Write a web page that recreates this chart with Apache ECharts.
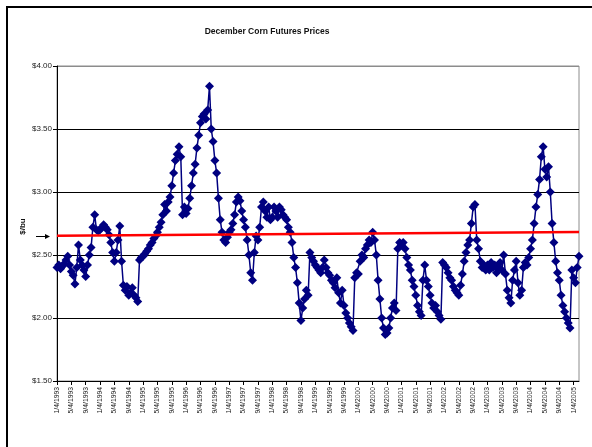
<!DOCTYPE html>
<html>
<head>
<meta charset="utf-8">
<script src="https://cdn.jsdelivr.net/npm/echarts@6/dist/echarts.min.js"></script>
<style>
  html, body { margin: 0; padding: 0; background: #fff; }
  #chart { width: 592px; height: 447px; }
</style>
</head>
<body>
<div id="chart"></div>
<script>
// December corn futures, two readings per month (4th and 19th), $/bu
const price1993 = [2.40, 2.42, 2.39, 2.41, 2.43, 2.46, 2.49, 2.42, 2.37, 2.34, 2.27, 2.40, 2.58, 2.46, 2.42, 2.38, 2.33, 2.42, 2.50, 2.56, 2.72, 2.82, 2.70, 2.69];
const price1994 = [2.70, 2.72, 2.74, 2.72, 2.70, 2.66, 2.60, 2.52, 2.45, 2.52, 2.62, 2.73, 2.45, 2.26, 2.22, 2.25, 2.18, 2.20, 2.24, 2.18, 2.16, 2.13, 2.46, 2.48];
const price1995 = [2.49, 2.51, 2.53, 2.55, 2.58, 2.60, 2.63, 2.65, 2.68, 2.72, 2.76, 2.82, 2.90, 2.85, 2.92, 2.96, 3.05, 3.15, 3.25, 3.30, 3.36, 3.28, 2.82, 2.88];
const price1996 = [2.83, 2.87, 2.95, 3.05, 3.15, 3.22, 3.35, 3.45, 3.55, 3.60, 3.62, 3.58, 3.65, 3.84, 3.50, 3.40, 3.25, 3.15, 2.95, 2.78, 2.68, 2.62, 2.60, 2.64];
const price1997 = [2.68, 2.70, 2.75, 2.82, 2.92, 2.96, 2.93, 2.85, 2.78, 2.72, 2.62, 2.50, 2.36, 2.30, 2.52, 2.65, 2.62, 2.72, 2.88, 2.92, 2.85, 2.80, 2.88, 2.78];
const price1998 = [2.80, 2.88, 2.85, 2.80, 2.88, 2.86, 2.82, 2.80, 2.78, 2.72, 2.68, 2.60, 2.48, 2.40, 2.28, 2.12, 1.98, 2.08, 2.15, 2.22, 2.18, 2.52, 2.48, 2.45];
const price1999 = [2.42, 2.40, 2.38, 2.36, 2.40, 2.46, 2.40, 2.36, 2.34, 2.30, 2.28, 2.24, 2.32, 2.20, 2.12, 2.22, 2.10, 2.04, 2.00, 1.96, 1.93, 1.90, 2.32, 2.36];
const price2000 = [2.35, 2.45, 2.50, 2.48, 2.55, 2.58, 2.62, 2.60, 2.68, 2.62, 2.50, 2.30, 2.15, 2.00, 1.92, 1.87, 1.88, 1.92, 2.00, 2.08, 2.12, 2.06, 2.55, 2.60];
const price2001 = [2.58, 2.60, 2.55, 2.48, 2.42, 2.38, 2.30, 2.25, 2.18, 2.10, 2.05, 2.02, 2.30, 2.42, 2.30, 2.25, 2.18, 2.12, 2.08, 2.10, 2.05, 2.02, 1.99, 2.44];
const price2002 = [2.42, 2.40, 2.36, 2.32, 2.30, 2.25, 2.22, 2.20, 2.18, 2.26, 2.35, 2.45, 2.52, 2.58, 2.62, 2.75, 2.88, 2.90, 2.62, 2.55, 2.45, 2.40, 2.42, 2.38];
const price2003 = [2.42, 2.38, 2.44, 2.40, 2.42, 2.36, 2.40, 2.44, 2.38, 2.50, 2.35, 2.22, 2.16, 2.12, 2.30, 2.38, 2.45, 2.28, 2.18, 2.22, 2.40, 2.44, 2.42, 2.48];
const price2004 = [2.55, 2.62, 2.75, 2.88, 2.98, 3.10, 3.28, 3.36, 3.18, 3.12, 3.20, 3.00, 2.75, 2.60, 2.45, 2.36, 2.30, 2.18, 2.10, 2.05, 2.00, 1.96, 1.92, 2.38];
const price2005 = [2.32, 2.28, 2.40, 2.49];

// red trend line, start and end value
const trendStart = 2.653;
const trendEnd = 2.683;

const yTicks = [1.5, 2.0, 2.5, 3.0, 3.5, 4.0];

const prices = [].concat(price1993, price1994, price1995, price1996, price1997, price1998,
  price1999, price2000, price2001, price2002, price2003, price2004, price2005);

// category labels M/4/YYYY and M/19/YYYY
const categories = [];
for (let y = 1993; y <= 2005; y++) {
  for (let m = 1; m <= 12; m++) {
    categories.push(m + '/4/' + y);
    categories.push(m + '/19/' + y);
  }
}
categories.length = prices.length;

const chart = echarts.init(document.getElementById('chart'), null, { renderer: 'canvas' });

const option = {
  animation: false,
  backgroundColor: '#fff',
  textStyle: { fontFamily: 'Liberation Sans, Arial, sans-serif' },
  title: {
    text: 'December Corn Futures Prices',
    left: 262,
    textAlign: 'center',
    top: 22,
    textStyle: { fontSize: 8.5, fontWeight: 'bold', color: '#111' }
  },
  grid: {
    left: 57, right: 13, top: 66, bottom: 66,
    show: true, borderColor: '#8c8c8c', borderWidth: 1
  },
  xAxis: {
    type: 'category',
    data: categories,
    boundaryGap: false,
    axisLine: { lineStyle: { color: '#000', width: 1 } },
    axisTick: { interval: 7, length: 4, lineStyle: { color: '#000' } },
    axisLabel: { interval: 7, rotate: 90, fontSize: 6.8, color: '#222', margin: 6 },
    splitLine: { show: false }
  },
  yAxis: {
    type: 'value',
    min: yTicks[0],
    max: yTicks[yTicks.length - 1],
    interval: 0.5,
    name: '$/bu',
    nameLocation: 'middle',
    nameGap: 30,
    nameRotate: 90,
    nameMoveOverlap: false,
    nameTextStyle: { fontSize: 8, fontWeight: 'bold', color: '#111', padding: [0, 6, 0, 0] },
    axisLine: { show: true, lineStyle: { color: '#000', width: 1 } },
    axisTick: { show: true, length: 4, lineStyle: { color: '#000' } },
    axisLabel: {
      fontSize: 8, color: '#222', margin: 5,
      formatter: v => '$' + v.toFixed(2)
    },
    splitLine: { lineStyle: { color: ['#000', '#000', '#000', '#000', '#000', '#8c8c8c'], width: 1 } }
  },
  series: [{
    name: 'Dec Corn',
    type: 'line',
    data: prices,
    symbol: 'diamond',
    symbolSize: 9,
    showAllSymbol: true,
    itemStyle: { color: '#000080' },
    lineStyle: { color: '#000080', width: 1.5 },
    markLine: {
      silent: true,
      symbol: 'none',
      label: { show: false },
      lineStyle: { color: '#ff0000', width: 2.5, type: 'solid' },
      data: [[
        { coord: [categories[0], trendStart] },
        { coord: [categories[categories.length - 1], trendEnd] }
      ]]
    }
  }]
};

chart.setOption(option);

// arrow next to the axis name, pointing at the trend level
const arrowY = Math.round(chart.convertToPixel({ yAxisIndex: 0 }, trendStart)) + 0.5;
chart.setOption({
  graphic: [
    {
      type: 'rect',
      shape: { x: 7, y: 7, width: 640, height: 480 },
      style: { fill: 'none', stroke: '#000', lineWidth: 2 },
      silent: true
    },
    {
      type: 'line',
      shape: { x1: 36, y1: arrowY, x2: 46, y2: arrowY },
      style: { stroke: '#000', lineWidth: 1 },
      silent: true
    },
    {
      type: 'polygon',
      shape: { points: [[50, arrowY], [45, arrowY - 2.5], [45, arrowY + 2.5]] },
      style: { fill: '#000' },
      silent: true
    }
  ]
});
</script>
</body>
</html>
